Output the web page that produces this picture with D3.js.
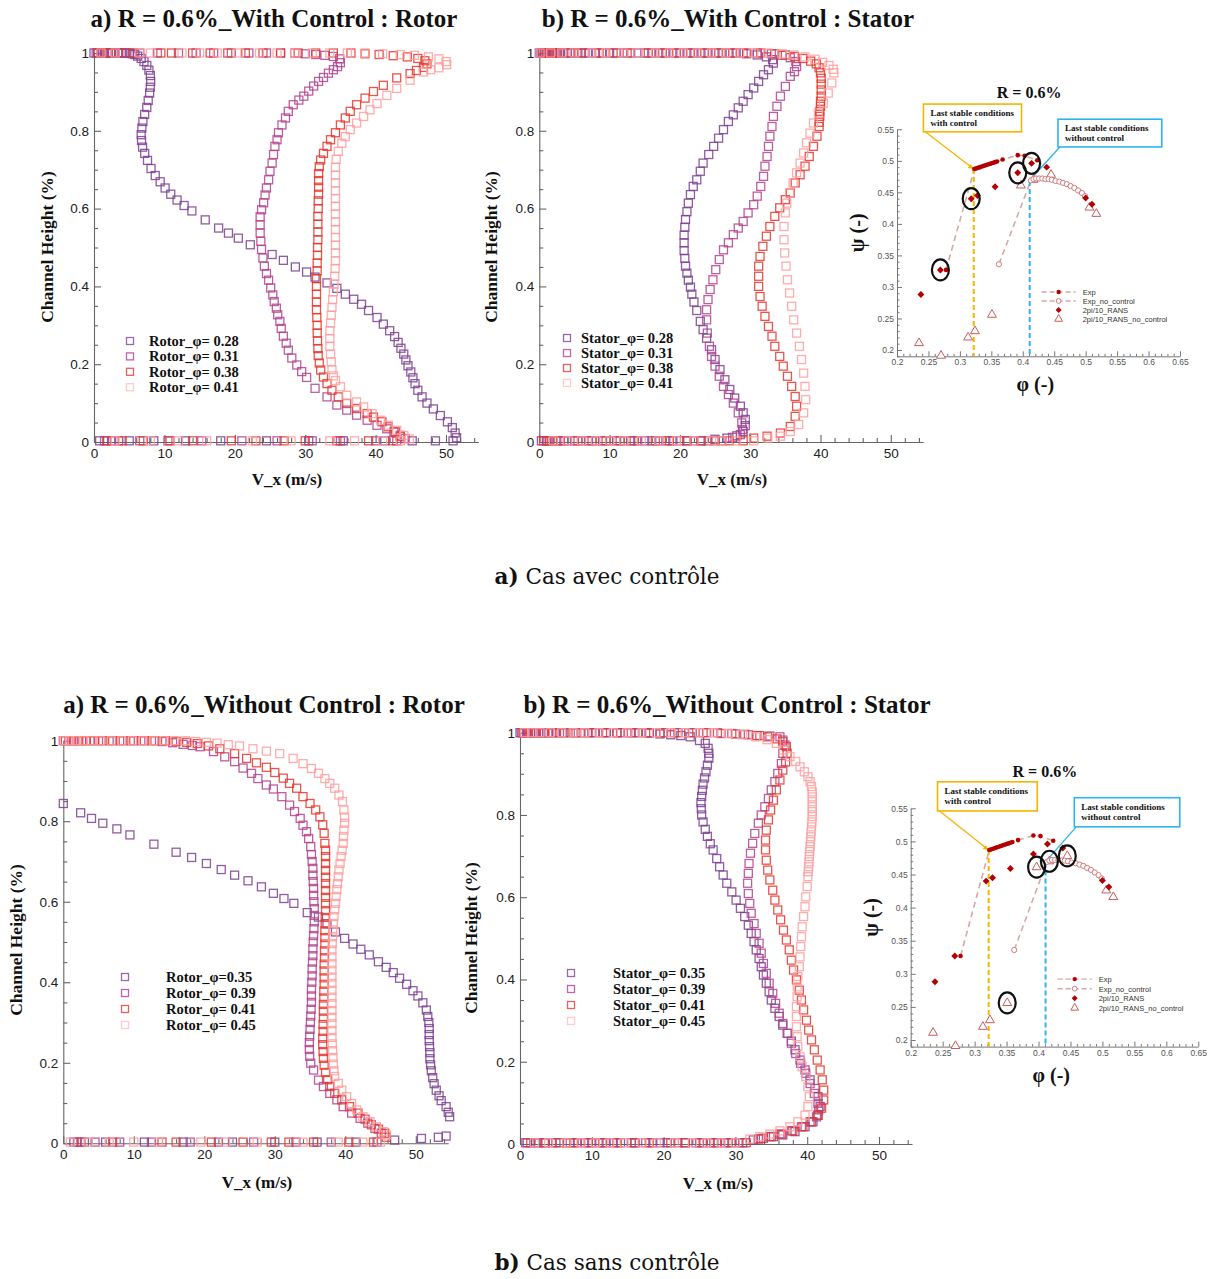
<!DOCTYPE html>
<html><head><meta charset="utf-8">
<script src="https://cdn.jsdelivr.net/npm/d3@7/dist/d3.min.js"></script>
<style>body{margin:0;background:#fff}</style></head>
<body>
<svg id="c" width="1215" height="1279" xmlns="http://www.w3.org/2000/svg"></svg>
<script>
// ---------------- DATA ----------------
// Legend labels
const tlLabels = ["Rotor_\u03c6= 0.28","Rotor_\u03c6= 0.31","Rotor_\u03c6= 0.38","Rotor_\u03c6= 0.41"];
const trLabels = ["Stator_\u03c6= 0.28","Stator_\u03c6= 0.31","Stator_\u03c6= 0.38","Stator_\u03c6= 0.41"];
const blLabels = ["Rotor_\u03c6=0.35","Rotor_\u03c6= 0.39","Rotor_\u03c6= 0.41","Rotor_\u03c6= 0.45"];
const brLabels = ["Stator_\u03c6= 0.35","Stator_\u03c6= 0.39","Stator_\u03c6= 0.41","Stator_\u03c6= 0.45"];
const titles = ["a) R = 0.6%_With Control : Rotor","b) R = 0.6%_With Control : Stator","a) R = 0.6%_Without Control : Rotor","b) R = 0.6%_Without Control : Stator"];
const xTicks = [0,10,20,30,40,50];
const yTicks = [0,0.2,0.4,0.6,0.8,1];

// [V_x (m/s), channel height]
const tlR28 = [[0,1],[0.5,1],[1,1],[1.5,1],[2,1],[2.5,1],[3,1],[3.5,1],[4,1],[4.5,1],[5,1],[5.4,0.998],[5.8,0.996],
[6.2,0.992],[6.7,0.986],[7.1,0.978],[7.5,0.968],[7.8,0.956],[8.0,0.942],[8.05,0.927],[8.0,0.912],[7.9,0.897],[7.7,0.878],[7.5,0.86],[7.2,0.842],[6.95,0.824],[6.8,0.807],[6.7,0.79],[6.75,0.775],[6.9,0.758],[7.2,0.742],[7.6,0.724],[8.1,0.703],[8.7,0.685],[9.4,0.669],[10.1,0.653],[10.9,0.637],[11.8,0.622],[12.8,0.608],[13.9,0.594],[15.8,0.571],[17.7,0.55],[19.1,0.537],[20.5,0.524],[22.2,0.507],[25.3,0.482],[26.9,0.467],[28.6,0.45],[30.2,0.437],[31.4,0.424],[33.1,0.409],[34.5,0.395],[35.7,0.38],[36.9,0.367],[38.0,0.354],[39.0,0.338],[40.2,0.32],[41.1,0.303],[42.0,0.286],[42.7,0.271],[43.2,0.256],[43.6,0.241],[44.0,0.226],[44.3,0.211],[44.6,0.196],[45.0,0.18],[45.3,0.165],[45.6,0.15],[46.0,0.133],[46.6,0.116],[47.3,0.1],[48.2,0.085],[49.2,0.068],[50.2,0.052],[50.9,0.037],[51.3,0.023],[51.5,0.011],
[51.0,0.003],[48.5,0.003],[45.2,0.003],[41.3,0.003],[35.4,0.003],[30.5,0.003],[24.5,0.003],[18.0,0.003],[13.0,0.003],[8.5,0.003],[5.0,0.003],[2.5,0.003],[0.8,0.003]];
const tlR31 = [[0.3,1],[1.2,1],[2.5,1],[4,1],[6.5,1],[9,1],[12,1],[14.5,1],[17,1],[19.5,1],[22,1],[24.5,1],[26.5,1],[28.5,1],[30,0.998],[31.5,0.996],[32.8,0.994],[34,0.991],
[34.9,0.985],[35.0,0.975],[34.6,0.965],[34.0,0.957],[33.3,0.948],[32.6,0.937],[31.9,0.927],[31.2,0.915],[30.5,0.902],[29.8,0.889],[29.1,0.879],[28.3,0.867],[27.6,0.85],[27.2,0.833],[26.7,0.815],[26.2,0.795],[26.0,0.777],[25.7,0.76],[25.5,0.739],[25.3,0.717],[25.0,0.696],[24.8,0.674],[24.5,0.653],[24.3,0.635],[24.1,0.615],[23.8,0.597],[23.6,0.579],[23.6,0.558],[23.6,0.537],[23.7,0.516],[23.8,0.495],[24.0,0.473],[24.2,0.452],[24.5,0.433],[24.8,0.416],[25.1,0.396],[25.4,0.378],[25.6,0.361],[25.9,0.344],[26.1,0.327],[26.4,0.31],[26.6,0.292],[26.9,0.272],[27.3,0.254],[27.6,0.236],[28.1,0.216],[28.8,0.198],[29.5,0.181],[30.2,0.166],[31.4,0.138],[33.1,0.116],[34.5,0.095],[35.9,0.082],[37.3,0.069],[38.8,0.056],[40.2,0.043],[41.6,0.034],[42.6,0.026],[43.5,0.017],[44.2,0.009],
[43.0,0.003],[40.0,0.003],[35.0,0.003],[31.0,0.003],[26.0,0.003],[21.0,0.003],[15.3,0.003],[10.5,0.003],[6.5,0.003],[3.5,0.003],[1.5,0.003]];
const tlR38 = [[0.6,1],[2,1],[3.5,1],[5.5,1],[9.5,1],[11,1],[14,1],[16.5,1],[19,1],[21.5,1],[24,1],[26.5,1],[29,1],[31.5,1],[34,1],[36.5,1],[38.5,0.998],[40.5,0.996],[42.5,0.993],[44.5,0.99],[46,0.986],[47,0.98],
[47.3,0.972],[46.8,0.963],[45.8,0.955],[44.9,0.947],[43.0,0.936],[41.1,0.917],[39.7,0.901],[38.5,0.884],[37.3,0.867],[36.4,0.85],[35.7,0.833],[35.0,0.815],[34.3,0.795],[33.6,0.777],[33.1,0.76],[32.6,0.742],[32.2,0.725],[32.0,0.708],[31.9,0.69],[31.9,0.672],[31.9,0.655],[31.9,0.637],[31.85,0.62],[31.85,0.6],[31.8,0.58],[31.8,0.56],[31.8,0.54],[31.8,0.52],[31.75,0.5],[31.75,0.48],[31.7,0.46],[31.7,0.44],[31.6,0.42],[31.6,0.4],[31.6,0.38],[31.6,0.36],[31.6,0.34],[31.65,0.32],[31.7,0.3],[31.7,0.28],[31.75,0.26],[31.8,0.24],[31.85,0.222],[32.0,0.203],[32.2,0.185],[32.6,0.167],[33.1,0.15],[33.8,0.133],[34.7,0.116],[35.9,0.099],[37.3,0.086],[38.8,0.073],[39.7,0.064],[40.9,0.052],[41.8,0.039],[42.8,0.026],[43.5,0.014],
[42.5,0.003],[39.0,0.003],[34.5,0.003],[30.0,0.003],[27.0,0.003],[23.0,0.003],[19.5,0.003],[14.0,0.003],[10.8,0.003],[7.0,0.003],[4.0,0.003],[1.8,0.003]];
const tlR41 = [[1,1],[3,1],[6.5,1],[8,1],[12.5,1],[15,1],[17.5,1],[20.5,1],[23.5,1],[26,1],[28.5,1],[31,1],[33.5,1],[36,1],[38.5,1],[41,0.998],[43.5,0.996],[45.5,0.994],[47.5,0.99],[49,0.985],[50,0.978],
[50.1,0.97],[49.0,0.962],[47.8,0.957],[46.8,0.951],[44.9,0.93],[43.0,0.909],[41.6,0.891],[40.2,0.87],[39.2,0.854],[38.3,0.837],[37.3,0.82],[36.4,0.803],[35.7,0.785],[35.2,0.768],[34.7,0.747],[34.4,0.727],[34.3,0.706],[34.3,0.686],[34.3,0.666],[34.3,0.646],[34.3,0.626],[34.3,0.606],[34.3,0.586],[34.3,0.566],[34.3,0.546],[34.3,0.526],[34.3,0.506],[34.3,0.486],[34.3,0.466],[34.25,0.446],[34.2,0.426],[34.1,0.406],[34.0,0.386],[33.9,0.366],[33.8,0.346],[33.7,0.326],[33.6,0.306],[33.5,0.286],[33.5,0.266],[33.5,0.246],[33.6,0.226],[33.7,0.206],[33.8,0.186],[34.0,0.17],[34.3,0.158],[35.0,0.142],[35.9,0.12],[37.3,0.103],[38.3,0.09],[39.5,0.073],[40.7,0.056],[41.8,0.043],[43.0,0.03],[44.0,0.017],[44.8,0.008],
[43.5,0.003],[41.0,0.003],[37.0,0.003],[33.5,0.003],[28.0,0.003],[22.5,0.003],[16.0,0.003],[12.0,0.003],[8.0,0.003],[3.0,0.003]];

const trS28 = [[0,1],[0.4,1],[0.8,1],[1.2,1],[1.6,1],[2,1],[2.5,1],[3,1],[4,1],[5,1],[6.5,1],[8,1],[10,1],[12,1],[14,1],[16,1],[18,1],[20,1],[22,1],[24,1],[26,1],[28,1],[29.5,0.998],[31,0.995],[32.3,0.99],[33.2,0.983],
[33.3,0.974],[32.6,0.957],[31.9,0.944],[31.2,0.927],[30.5,0.91],[29.7,0.893],[29.0,0.876],[28.3,0.859],[27.6,0.841],[26.9,0.824],[26.2,0.803],[25.5,0.781],[24.8,0.76],[24.1,0.739],[23.3,0.717],[22.9,0.696],[22.4,0.674],[21.9,0.657],[21.5,0.636],[21.2,0.614],[21.0,0.592],[20.8,0.572],[20.7,0.552],[20.6,0.532],[20.6,0.512],[20.6,0.492],[20.7,0.472],[20.8,0.452],[21.0,0.434],[21.2,0.416],[21.5,0.398],[21.7,0.38],[22.0,0.36],[22.4,0.338],[22.9,0.31],[23.3,0.289],[23.8,0.267],[24.5,0.237],[25.0,0.212],[25.7,0.186],[26.4,0.16],[27.1,0.135],[27.8,0.113],[28.6,0.092],[29.0,0.075],[29.3,0.058],[29.3,0.042],[29.0,0.027],[28.1,0.016],[26.7,0.01],[25.0,0.007],
[23.0,0.003],[21.0,0.003],[19.0,0.003],[17.0,0.003],[15.0,0.003],[13.0,0.003],[11.0,0.003],[9.0,0.003],[7.0,0.003],[5.0,0.003],[3.5,0.003],[2.0,0.003],[1.0,0.003],[0.3,0.003]];
const trS31 = [[0.2,1],[0.7,1],[1.4,1],[2.2,1],[3.5,1],[5.5,1],[7,1],[9,1],[11,1],[13,1],[15,1],[17,1],[19,1],[21,1],[23,1],[25,1],[27,1],[29,1],[31,1],[33,0.998],[34.5,0.994],[35.7,0.988],[36.5,0.978],
[36.6,0.965],[36.3,0.952],[35.7,0.94],[35.0,0.914],[34.3,0.889],[33.8,0.863],[33.3,0.837],[33.1,0.811],[32.8,0.786],[32.6,0.76],[32.4,0.734],[32.1,0.709],[31.9,0.683],[31.5,0.657],[31.0,0.632],[30.5,0.61],[29.7,0.589],[29.0,0.567],[28.3,0.55],[27.6,0.533],[26.9,0.512],[26.2,0.494],[25.6,0.469],[25.1,0.443],[24.7,0.417],[24.3,0.392],[24.0,0.366],[23.8,0.34],[23.8,0.314],[23.9,0.28],[24.2,0.246],[24.5,0.22],[25.0,0.195],[25.6,0.169],[26.2,0.143],[26.9,0.122],[27.6,0.1],[28.3,0.075],[28.8,0.049],[28.9,0.032],[28.6,0.019],[27.5,0.012],
[26,0.003],[24,0.003],[22,0.003],[20,0.003],[18,0.003],[16,0.003],[14,0.003],[12,0.003],[10,0.003],[8,0.003],[6,0.003],[4,0.003],[2.5,0.003],[1.2,0.003]];
const trS38 = [[0.5,1],[1,1],[1.8,1],[2.6,1],[4.5,1],[6,1],[8.5,1],[10.5,1],[12.5,1],[15.5,1],[17.5,1],[19.5,1],[21.5,1],[23.5,1],[25.5,1],[27.5,1],[29.5,1],[31.5,1],[33.5,0.998],[35,0.995],[36.3,0.991],[37.5,0.986],[38.6,0.979],[39.4,0.972],
[39.8,0.962],[40.0,0.949],[40.1,0.935],[40.1,0.92],[40.1,0.905],[40.1,0.889],[40.0,0.876],[40.0,0.863],[39.9,0.85],[39.9,0.837],[39.8,0.822],[39.8,0.811],[39.5,0.786],[39.0,0.76],[38.4,0.734],[37.8,0.709],[37.1,0.687],[36.4,0.666],[35.7,0.64],[35.0,0.623],[34.2,0.602],[33.5,0.58],[32.8,0.554],[32.3,0.529],[31.8,0.503],[31.4,0.477],[31.2,0.452],[31.2,0.426],[31.2,0.4],[31.4,0.374],[31.7,0.349],[32.1,0.323],[32.6,0.297],[33.1,0.272],[33.5,0.246],[34.2,0.22],[34.7,0.195],[35.3,0.169],[35.9,0.143],[36.4,0.117],[36.6,0.092],[36.4,0.066],[35.7,0.04],[34.3,0.023],[32.4,0.015],[30.5,0.01],
[29,0.003],[27,0.003],[25,0.003],[23,0.003],[21,0.003],[18.5,0.003],[16.5,0.003],[13.5,0.003],[11.5,0.003],[9.5,0.003],[7.5,0.003],[5.5,0.003],[3,0.003],[1.5,0.003],[0.6,0.003]];
const trS41 = [[0.1,1],[1.6,1],[3.2,1],[5,1],[7.5,1],[9.5,1],[12,1],[14,1],[16.5,1],[18.5,1],[20.5,1],[22.5,1],[24.5,1],[26.5,1],[28.5,1],[30.5,1],[32.5,1],[34.5,0.998],[36.2,0.995],[37.8,0.99],[39.2,0.984],[40.3,0.976],[41.2,0.968],[41.8,0.958],
[41.9,0.949],[41.6,0.923],[41.1,0.897],[40.4,0.871],[39.7,0.846],[39.0,0.82],[38.5,0.794],[38.0,0.769],[37.6,0.743],[37.1,0.717],[36.6,0.692],[36.1,0.666],[35.6,0.64],[35.2,0.614],[35.0,0.589],[34.8,0.554],[34.8,0.52],[34.9,0.486],[35.1,0.452],[35.3,0.417],[35.6,0.383],[35.9,0.349],[36.2,0.314],[36.6,0.28],[37.0,0.246],[37.3,0.212],[37.6,0.177],[37.8,0.143],[37.9,0.109],[37.6,0.075],[36.9,0.045],[35.7,0.027],[34.3,0.015],[32.5,0.01],
[30.5,0.003],[28,0.003],[26,0.003],[24.5,0.003],[22,0.003],[19.5,0.003],[17,0.003],[14.5,0.003],[12,0.003],[10,0.003],[8,0.003],[6,0.003],[4,0.003],[2,0.003]];

const blR35 = [[0,0.844],[2.46,0.821],[4.0,0.807],[5.6,0.795],[7.6,0.781],[9.45,0.766],[12.85,0.743],[16.0,0.723],[18.2,0.71],[20.3,0.695],[22.4,0.68],[24.3,0.666],[26.2,0.652],[28.1,0.637],[29.8,0.621],[31.3,0.608],[32.7,0.596],[34.6,0.573],[36.2,0.562],[37.4,0.545],[38.6,0.525],[39.9,0.509],[41.1,0.495],[42.2,0.482],[43.4,0.468],[44.7,0.451],[45.8,0.437],[46.8,0.424],[47.7,0.41],[48.7,0.395],[49.6,0.379],[50.3,0.366],[51.0,0.349],[51.5,0.331],[51.7,0.315],[51.85,0.3],[51.9,0.285],[51.9,0.27],[51.9,0.255],[51.95,0.24],[52.0,0.225],[52.0,0.21],[52.1,0.195],[52.2,0.18],[52.4,0.163],[52.6,0.148],[52.9,0.132],[53.3,0.118],[53.6,0.106],[54.3,0.091],[54.6,0.077],[54.8,0.066],
[54.3,0.018],[53.2,0.015],[50.8,0.012],[47.0,0.008],[41.5,0.003],[36.0,0.003],[30.0,0.003],[24.0,0.003],[17.0,0.003],[11.5,0.003],[6.0,0.003],[3.0,0.003],[1.5,0.003]];
const blR39 = [[0,1],[0.8,1],[1.6,1],[2.6,1],[3.8,1],[5,1],[6.5,1],[8,1],[9.5,1],[11,1],[12.5,1],[14,0.998],[15.5,0.995],[17,0.991],[18.3,0.988],
[19.4,0.985],[21.3,0.973],[22.9,0.96],[24.3,0.948],[25.5,0.932],[26.7,0.919],[27.6,0.906],[28.8,0.89],[29.8,0.88],[31.0,0.861],[32.1,0.84],[32.8,0.824],[33.6,0.807],[34.0,0.79],[34.5,0.774],[34.8,0.757],[35.1,0.737],[35.2,0.717],[35.3,0.7],[35.4,0.683],[35.4,0.666],[35.45,0.65],[35.5,0.633],[35.5,0.616],[35.55,0.6],[35.6,0.583],[35.6,0.566],[35.6,0.55],[35.55,0.533],[35.5,0.516],[35.45,0.5],[35.4,0.483],[35.4,0.466],[35.35,0.45],[35.3,0.433],[35.3,0.416],[35.25,0.4],[35.2,0.383],[35.2,0.366],[35.2,0.35],[35.15,0.333],[35.1,0.316],[35.05,0.3],[35.0,0.283],[34.95,0.266],[34.9,0.25],[34.9,0.233],[34.95,0.216],[35.1,0.199],[35.5,0.182],[36.2,0.157],[36.9,0.141],[37.8,0.124],[38.8,0.108],[39.7,0.091],[40.9,0.075],[42.1,0.062],[43.2,0.05],[44.2,0.037],[45.1,0.025],
[44.5,0.003],[38.0,0.003],[33.0,0.003],[27.0,0.003],[22.0,0.003],[18.0,0.003],[12.5,0.003],[8.0,0.003],[4.5,0.003],[2.0,0.003]];
const blR41 = [[0.3,1],[1.2,1],[2.2,1],[3.2,1],[4.4,1],[5.6,1],[7,1],[8.5,1],[10,1],[11.5,1],[13,1],[14.5,1],[16,0.998],[17.5,0.996],[19,0.993],[20.6,0.987],
[22.2,0.98],[24.3,0.968],[26.0,0.956],[27.4,0.945],[28.8,0.934],[30.0,0.921],[31.2,0.907],[32.1,0.894],[33.1,0.882],[34.0,0.861],[35.0,0.844],[35.8,0.828],[36.4,0.811],[36.8,0.791],[37.0,0.77],[37.1,0.745],[37.2,0.728],[37.2,0.712],[37.2,0.695],[37.2,0.678],[37.2,0.661],[37.2,0.645],[37.2,0.628],[37.2,0.611],[37.2,0.595],[37.2,0.578],[37.15,0.561],[37.15,0.545],[37.1,0.528],[37.1,0.511],[37.1,0.495],[37.05,0.478],[37.05,0.461],[37.0,0.445],[37.0,0.428],[37.0,0.411],[37.0,0.395],[36.95,0.378],[36.95,0.361],[36.9,0.345],[36.9,0.328],[36.9,0.311],[36.85,0.295],[36.85,0.278],[36.8,0.261],[36.8,0.245],[36.85,0.228],[36.9,0.211],[37.0,0.194],[37.2,0.176],[37.5,0.158],[37.8,0.141],[38.5,0.124],[39.5,0.108],[40.6,0.091],[41.8,0.075],[42.8,0.06],[43.7,0.046],[44.7,0.035],[45.6,0.025],[45.8,0.015],
[44.0,0.003],[40.5,0.003],[35.5,0.003],[32.0,0.003],[29.5,0.003],[25.5,0.003],[21.0,0.003],[16.0,0.003],[14.0,0.003],[7.0,0.003],[2.5,0.003]];
const blR45 = [[0.1,1],[0.9,1],[1.8,1],[2.8,1],[4,1],[5.3,1],[6.8,1],[8.3,1],[9.8,1],[11.3,1],[12.8,1],[14.3,1],[15.8,1],[17.3,1],[18.8,0.998],[20.3,0.996],[21.8,0.994],[23.4,0.99],
[25.0,0.987],[26.9,0.98],[28.8,0.974],[30.7,0.968],[32.6,0.956],[34.0,0.943],[35.2,0.931],[36.2,0.919],[37.1,0.906],[37.8,0.894],[38.5,0.882],[39.1,0.865],[39.6,0.849],[39.8,0.828],[39.9,0.81],[39.9,0.795],[39.8,0.778],[39.75,0.762],[39.7,0.745],[39.55,0.728],[39.4,0.712],[39.25,0.695],[39.1,0.679],[39.0,0.662],[38.9,0.645],[38.8,0.63],[38.7,0.613],[38.6,0.596],[38.5,0.58],[38.4,0.563],[38.3,0.546],[38.2,0.53],[38.2,0.513],[38.15,0.496],[38.1,0.48],[38.1,0.463],[38.1,0.446],[38.1,0.43],[38.1,0.413],[38.1,0.397],[38.1,0.38],[38.1,0.363],[38.1,0.347],[38.1,0.33],[38.1,0.313],[38.1,0.297],[38.1,0.28],[38.1,0.263],[38.15,0.247],[38.2,0.23],[38.25,0.213],[38.3,0.197],[38.4,0.18],[38.5,0.166],[39.0,0.149],[39.5,0.132],[40.2,0.116],[40.9,0.099],[41.6,0.083],[42.5,0.066],[43.5,0.054],[44.4,0.041],[45.4,0.029],[45.8,0.021],
[45.0,0.003],[42.5,0.003],[39.0,0.003],[34.0,0.003],[27.5,0.003],[23.0,0.003],[19.5,0.003],[13.5,0.003],[10.0,0.003],[6.5,0.003],[3.5,0.003],[1.0,0.003]];

const brS35 = [[0,1],[0.5,1],[1,1],[1.5,1],[2,1],[2.6,1],[3.3,1],[4,1],[5,1],[6,1],[7.5,1],[9,1],[10.5,1],[12,1],[13.5,1],[15,1],[16.5,1],[18,0.999],[19.5,0.997],[21,0.995],[22.4,0.993],
[23.7,0.99],[25.0,0.981],[25.8,0.974],[26.2,0.962],[26.3,0.95],[26.3,0.938],[26.1,0.921],[25.9,0.905],[25.7,0.89],[25.5,0.875],[25.4,0.86],[25.3,0.845],[25.2,0.83],[25.25,0.815],[25.3,0.8],[25.5,0.783],[25.8,0.765],[26.1,0.748],[26.5,0.73],[26.9,0.715],[27.4,0.694],[27.8,0.674],[28.3,0.654],[28.8,0.634],[29.5,0.613],[30.1,0.593],[30.7,0.573],[31.3,0.553],[31.8,0.532],[32.2,0.512],[32.6,0.492],[32.9,0.472],[33.3,0.451],[33.6,0.431],[33.9,0.411],[34.3,0.391],[34.7,0.37],[35.0,0.35],[35.5,0.33],[36.1,0.31],[36.6,0.289],[37.3,0.269],[37.8,0.25],[38.3,0.229],[39.0,0.204],[39.7,0.18],[40.4,0.156],[41.1,0.135],[41.5,0.115],[41.8,0.091],[41.5,0.07],[40.8,0.054],[39.7,0.042],[38.3,0.03],[36.6,0.022],[35.3,0.018],[33.9,0.014],[32.5,0.01],
[31,0.003],[29,0.003],[27,0.003],[25,0.003],[23,0.003],[20.5,0.003],[18.5,0.003],[16,0.003],[14,0.003],[12,0.003],[10,0.003],[8,0.003],[6.5,0.003],[5,0.003],[3.5,0.003],[2.2,0.003],[1,0.003]];
const brS39 = [[0.2,1],[0.9,1],[1.8,1],[2.8,1],[4,1],[5.5,1],[7,1],[8.5,1],[10,1],[12,1],[14,1],[16,1],[18,1],[20,1],[22,1],[24,1],[26,1],[28,0.998],[30,0.997],[31.8,0.995],[33.4,0.993],[34.8,0.992],
[36.2,0.99],[36.6,0.982],[36.9,0.97],[36.6,0.95],[36.4,0.925],[35.9,0.901],[35.5,0.881],[35.0,0.861],[34.6,0.84],[34.1,0.82],[33.6,0.8],[33.2,0.78],[32.7,0.755],[32.4,0.731],[32.1,0.707],[31.9,0.682],[31.8,0.658],[31.7,0.634],[31.8,0.609],[32.0,0.585],[32.2,0.561],[32.6,0.536],[32.9,0.512],[33.3,0.488],[33.6,0.464],[33.9,0.439],[34.3,0.415],[34.7,0.391],[35.2,0.366],[35.6,0.342],[36.1,0.318],[36.6,0.293],[37.2,0.269],[37.8,0.245],[38.4,0.22],[39.1,0.196],[39.8,0.172],[40.4,0.147],[41.0,0.123],[41.5,0.099],[41.6,0.083],[41.3,0.066],[40.4,0.054],[39.2,0.042],[37.8,0.032],[36.2,0.024],[34.8,0.018],[33.2,0.012],
[30.5,0.003],[28.5,0.003],[26.5,0.003],[24.5,0.003],[22,0.003],[19.5,0.003],[17.5,0.003],[15.5,0.003],[13,0.003],[11,0.003],[9,0.003],[7,0.003],[4.5,0.003],[2.5,0.003],[0.8,0.003]];
const brS41 = [[0.4,1],[1.2,1],[2.2,1],[3.4,1],[4.6,1],[6.2,1],[7.8,1],[9.5,1],[11.5,1],[13.5,1],[15.5,1],[17.5,1],[19.5,1],[21.5,1],[23.5,1],[25.5,1],[27.5,1],[29.5,0.998],[31.3,0.996],[33,0.993],[34.5,0.99],[35.8,0.985],
[36.6,0.978],[37.1,0.966],[37.2,0.95],[37.0,0.929],[36.6,0.909],[36.2,0.885],[35.7,0.861],[35.3,0.836],[34.9,0.812],[34.6,0.788],[34.3,0.763],[34.2,0.739],[34.2,0.715],[34.3,0.69],[34.5,0.666],[34.8,0.642],[35.2,0.617],[35.5,0.593],[35.9,0.569],[36.3,0.545],[36.7,0.52],[37.1,0.496],[37.5,0.472],[37.8,0.447],[38.1,0.423],[38.5,0.399],[38.9,0.374],[39.2,0.35],[39.5,0.326],[39.9,0.301],[40.2,0.277],[40.6,0.253],[41.0,0.229],[41.4,0.204],[41.8,0.18],[42.1,0.156],[42.3,0.131],[42.3,0.107],[42.0,0.087],[41.5,0.07],[40.6,0.054],[39.4,0.042],[38.0,0.032],[36.4,0.024],[35.0,0.018],[33.5,0.013],
[31.5,0.003],[29.5,0.003],[27.5,0.003],[25.5,0.003],[23,0.003],[21,0.003],[18,0.003],[16,0.003],[13.5,0.003],[11.5,0.003],[9.5,0.003],[7.5,0.003],[5.5,0.003],[3.5,0.003],[1.5,0.003]];
const brS45 = [[0.6,1],[1.6,1],[2.8,1],[4.2,1],[5.8,1],[7.4,1],[9,1],[11,1],[13,1],[15,1],[17,1],[19,1],[21,1],[23,1],[25,1],[27,1],[29,0.998],[31,0.995],[32.8,0.99],[34.4,0.983],
[35.7,0.974],[36.7,0.958],[37.6,0.942],[38.4,0.93],[39.0,0.917],[39.6,0.905],[40.1,0.893],[40.4,0.881],[40.6,0.869],[40.7,0.856],[40.7,0.844],[40.7,0.832],[40.7,0.82],[40.7,0.808],[40.7,0.796],[40.65,0.783],[40.6,0.771],[40.55,0.759],[40.5,0.747],[40.45,0.735],[40.4,0.723],[40.35,0.711],[40.3,0.699],[40.25,0.686],[40.2,0.674],[40.15,0.662],[40.1,0.65],[40.0,0.626],[39.8,0.601],[39.7,0.577],[39.5,0.553],[39.3,0.528],[39.2,0.504],[39.1,0.48],[39.0,0.455],[38.9,0.431],[38.7,0.407],[38.6,0.382],[38.6,0.358],[38.5,0.334],[38.5,0.31],[38.5,0.285],[38.6,0.261],[38.7,0.237],[39.0,0.212],[39.3,0.188],[39.8,0.164],[40.1,0.139],[40.3,0.115],[40.1,0.091],[39.7,0.07],[38.7,0.054],[37.6,0.042],[36.2,0.032],[34.8,0.024],[33.4,0.018],[32,0.012],
[30,0.003],[28,0.003],[26,0.003],[24,0.003],[21.5,0.003],[19,0.003],[17,0.003],[14.5,0.003],[12.5,0.003],[10.5,0.003],[8.5,0.003],[6.5,0.003],[4,0.003],[2,0.003]];

// Compressor characteristic (phi, psi)
const expPhi = [0.278,0.323,0.326,0.329,0.332,0.335,0.338,0.341,0.344,0.347,0.350,0.353,0.356,0.359,0.368,0.392,0.403,0.423];
const expPsi = [0.327,0.487,0.488,0.489,0.490,0.491,0.492,0.493,0.494,0.495,0.496,0.497,0.498,0.499,0.502,0.509,0.508,0.501];
const expNcPhi = [0.362,0.413,0.417,0.421,0.426,0.431,0.436,0.441,0.446,0.452,0.458,0.464,0.470,0.476,0.482,0.488,0.494,0.499];
const expNcPsi = [0.336,0.469,0.471,0.472,0.472,0.472,0.471,0.471,0.470,0.468,0.467,0.465,0.463,0.460,0.457,0.453,0.449,0.444];
const ransPhi = [0.238,0.269,0.318,0.328,0.356,0.392,0.414,0.438,0.500,0.510];
const ransPsi = [0.288,0.327,0.440,0.445,0.459,0.481,0.496,0.490,0.441,0.431];
const ransNcPhi = [0.235,0.270,0.313,0.324,0.351,0.397,0.417,0.445,0.506,0.517];
const ransNcPsi = [0.211,0.191,0.220,0.230,0.256,0.461,0.470,0.478,0.426,0.416];
const circledTop = [[0.269,0.327],[0.318,0.440],[0.392,0.481],[0.414,0.496]];
const circledBottom = [[0.397,0.461],[0.417,0.470],[0.445,0.478],[0.351,0.256]];
const stallWith = [0.322,0.487];
const stallWithout = [0.411,0.468];
const miniXTicks = [0.2,0.25,0.3,0.35,0.4,0.45,0.5,0.55,0.6,0.65];
const miniYTicks = [0.2,0.25,0.3,0.35,0.4,0.45,0.5,0.55];
const miniLegend = ["Exp","Exp_no_control","2pi/10_RANS","2pi/10_RANS_no_control"];

// ---------------- DRAWING ----------------
const svg = d3.select('#c');
svg.append('rect').attr('width',1215).attr('height',1279).attr('fill','#fff');
const serif = "'Liberation Serif','Times New Roman',serif";
const sans = "'Liberation Sans',Arial,sans-serif";
const colors = ["#7d3f90","#b2428f","#e4372e","#ff9d9d"];
const legendColors = ["#9a66ae","#c462ab","#ea5f5f","#ffcccc"];

function profile(cfg){
  const g = svg.append('g');
  const x = d3.scaleLinear().domain([0,54.6]).range([cfg.x0, cfg.x0 + 54.6*cfg.kx]);
  const y = d3.scaleLinear().domain([0,1]).range([cfg.yb, cfg.yt]);
  g.append('g').attr('transform',`translate(0,${cfg.yb})`)
    .call(d3.axisBottom(x).tickValues(xTicks).tickSize(-7).tickSizeOuter(0).tickPadding(6).tickFormat(d=>String(d)));
  g.append('g').attr('transform',`translate(0,${cfg.yb})`)
    .call(d3.axisBottom(x).tickValues(d3.range(2,55,2).filter(v=>v%10)).tickSize(-4).tickSizeOuter(0).tickFormat(''))
    .select('.domain').remove();
  g.append('g').attr('transform',`translate(${cfg.x0},0)`)
    .call(d3.axisLeft(y).tickValues(yTicks).tickSize(-7).tickSizeOuter(0).tickPadding(5).tickFormat(d=>String(d)));
  g.append('g').attr('transform',`translate(${cfg.x0},0)`)
    .call(d3.axisLeft(y).tickValues([0.05,0.1,0.15,0.25,0.3,0.35,0.45,0.5,0.55,0.65,0.7,0.75,0.85,0.9,0.95]).tickSize(-4).tickSizeOuter(0).tickFormat(''))
    .select('.domain').remove();
  g.selectAll('.domain, .tick line').attr('stroke','#666').attr('stroke-width',1.1);
  g.selectAll('.tick text').attr('font-family',sans).attr('font-size',13.5).attr('fill','#222');
  cfg.series.forEach((pts,i)=>{
    g.append('g').selectAll('rect').data(pts).join('rect')
      .attr('x',d=>x(d[0])-4).attr('y',d=>y(d[1])-4).attr('width',8).attr('height',8)
      .attr('fill','none').attr('stroke',colors[i]).attr('stroke-width',1.3).attr('stroke-opacity',0.85);
  });
  cfg.labels.forEach((t,i)=>{
    const yy = cfg.ly + i*cfg.lstep;
    g.append('rect').attr('x',cfg.lsx-3.5).attr('y',yy-3.5).attr('width',7).attr('height',7)
      .attr('fill','none').attr('stroke',legendColors[i]).attr('stroke-width',1.3);
    g.append('text').attr('x',cfg.ltx).attr('y',yy+5).text(t)
      .attr('font-family',serif).attr('font-weight','bold').attr('font-size',14.5).attr('fill','#111');
  });
  g.append('text').attr('transform',`translate(${cfg.ylx},${cfg.yly}) rotate(-90)`).attr('text-anchor','middle')
    .attr('font-family',serif).attr('font-weight','bold').attr('font-size',17.5).attr('fill','#111').text('Channel Height (%)');
  g.append('text').attr('x',cfg.xlx).attr('y',cfg.xly).attr('text-anchor','middle')
    .attr('font-family',serif).attr('font-weight','bold').attr('font-size',17).attr('fill','#111').text('V_x (m/s)');
  g.append('text').attr('x',cfg.tx).attr('y',cfg.ty).attr('text-anchor','middle')
    .attr('font-family',serif).attr('font-weight','bold').attr('font-size',25).attr('fill','#111').text(cfg.title);
}

profile({x0:94,kx:7.04,yb:442,yt:53,series:[tlR28,tlR31,tlR38,tlR41],labels:tlLabels,lsx:130,ltx:149,ly:341,lstep:15.4,
  ylx:53,yly:247,xlx:287,xly:485,tx:274,ty:27,title:titles[0]});
profile({x0:539.3,kx:7.03,yb:442,yt:53,series:[trS28,trS31,trS38,trS41],labels:trLabels,lsx:567,ltx:581,ly:338,lstep:15,
  ylx:497,yly:247,xlx:732,xly:485,tx:728,ty:27,title:titles[1]});
profile({x0:63.3,kx:7.05,yb:1143.3,yt:740.7,series:[blR35,blR39,blR41,blR45],labels:blLabels,lsx:125,ltx:166,ly:977,lstep:16,
  ylx:22,yly:940,xlx:257,xly:1188,tx:264,ty:713,title:titles[2]});
profile({x0:520,kx:7.18,yb:1144,yt:732.7,series:[brS35,brS39,brS41,brS45],labels:brLabels,lsx:571,ltx:613,ly:973,lstep:16,
  ylx:477,yly:938,xlx:718,xly:1189,tx:727,ty:713,title:titles[3]});

function mini(cfg){
  const g = svg.append('g');
  const x = d3.scaleLinear().domain([0.2,0.65]).range([cfg.x0,cfg.x1]);
  const k = (cfg.y20 - cfg.y55)/0.35;
  const y = d3.scaleLinear().domain([0.19,0.55]).range([cfg.y20 + 0.01*k, cfg.y55]);
  const yb = y(0.19);
  g.append('g').attr('transform',`translate(0,${yb})`)
    .call(d3.axisBottom(x).tickValues(miniXTicks).tickSize(-5).tickSizeOuter(0).tickPadding(3).tickFormat(d=>String(d)));
  g.append('g').attr('transform',`translate(0,${yb})`)
    .call(d3.axisBottom(x).tickValues(d3.range(21,65).filter(v=>v%5).map(v=>v/100)).tickSize(-2.5).tickFormat(''))
    .select('.domain').remove();
  g.append('g').attr('transform',`translate(${cfg.x0},0)`)
    .call(d3.axisLeft(y).tickValues(miniYTicks).tickSize(-5).tickSizeOuter(0).tickPadding(3).tickFormat(d=>String(d)));
  g.append('g').attr('transform',`translate(${cfg.x0},0)`)
    .call(d3.axisLeft(y).tickValues(d3.range(19,55).filter(v=>v%5).map(v=>v/100)).tickSize(-2.5).tickFormat(''))
    .select('.domain').remove();
  g.selectAll('.domain, .tick line').attr('stroke','#777').attr('stroke-width',1);
  g.selectAll('.tick text').attr('font-family',sans).attr('font-size',8.5).attr('fill','#555');

  const dashCol = '#d8a7a7';
  const line = d3.line().x(d=>x(d[0])).y(d=>y(d[1]));
  const exp = expPhi.map((p,i)=>[p,expPsi[i]]);
  const expNc = expNcPhi.map((p,i)=>[p,expNcPsi[i]]);
  const rans = ransPhi.map((p,i)=>[p,ransPsi[i]]);
  const ransNc = ransNcPhi.map((p,i)=>[p,ransNcPsi[i]]);
  g.append('path').attr('d',line(exp)).attr('fill','none').attr('stroke',dashCol).attr('stroke-width',1.6).attr('stroke-dasharray','6,4');
  g.append('path').attr('d',line(expNc)).attr('fill','none').attr('stroke',dashCol).attr('stroke-width',1.6).attr('stroke-dasharray','6,4');

  const yel='#f6b400', blu='#2db4ef';
  g.append('line').attr('x1',x(stallWith[0])).attr('x2',x(stallWith[0])).attr('y1',y(stallWith[1])).attr('y2',yb)
    .attr('stroke',yel).attr('stroke-width',2).attr('stroke-dasharray','5,3');
  g.append('line').attr('x1',x(stallWithout[0])).attr('x2',x(stallWithout[0])).attr('y1',y(stallWithout[1])).attr('y2',yb)
    .attr('stroke',blu).attr('stroke-width',2).attr('stroke-dasharray','5,3');
  g.append('line').attr('x1',x(0.245)).attr('y1',y(0.546)).attr('x2',x(stallWith[0])).attr('y2',y(stallWith[1]))
    .attr('stroke',yel).attr('stroke-width',1.3);
  g.append('path').attr('d',`M${x(stallWith[0])},${y(stallWith[1])} l-6,-1 l3,-4 z`).attr('fill',yel);
  g.append('line').attr('x1',x(0.459)).attr('y1',y(0.522)).attr('x2',x(stallWithout[0])+1).attr('y2',y(stallWithout[1])-2)
    .attr('stroke',blu).attr('stroke-width',1.3);
  const box=(p0,p1,q0,q1,col,t1,t2)=>{
    g.append('rect').attr('x',x(p0)).attr('y',y(q1)).attr('width',x(p1)-x(p0)).attr('height',y(q0)-y(q1))
      .attr('fill','#fff').attr('stroke',col).attr('stroke-width',1.6);
    g.append('text').attr('x',x(p0)+7).attr('y',y(q1)+12).text(t1).attr('font-family',serif).attr('font-weight','bold').attr('font-size',9).attr('fill','#111');
    g.append('text').attr('x',x(p0)+7).attr('y',y(q1)+22).text(t2).attr('font-family',serif).attr('font-weight','bold').attr('font-size',9).attr('fill','#111');
  };
  box(0.242,0.398,0.546,0.590,yel,'Last stable conditions','with control');
  box(0.456,0.621,0.522,0.566,blu,'Last stable conditions','without control');

  g.append('g').selectAll('path').data(ransNc).join('path')
    .attr('transform',d=>`translate(${x(d[0])},${y(d[1])})`).attr('d',d3.symbol(d3.symbolTriangle,34))
    .attr('fill','#fff').attr('stroke','#c85d5d').attr('stroke-width',1);
  g.append('g').selectAll('circle').data(expNc).join('circle')
    .attr('cx',d=>x(d[0])).attr('cy',d=>y(d[1])).attr('r',2.6).attr('fill','#fff').attr('stroke','#cf7d7d').attr('stroke-width',1);
  g.append('g').selectAll('circle').data(exp).join('circle')
    .attr('cx',d=>x(d[0])).attr('cy',d=>y(d[1])).attr('r',2.3).attr('fill','#b30000');
  g.append('g').selectAll('path').data(rans).join('path')
    .attr('transform',d=>`translate(${x(d[0])},${y(d[1])}) rotate(45)`).attr('d',d3.symbol(d3.symbolSquare,24)).attr('fill','#b30000');

  g.append('g').selectAll('ellipse').data(cfg.circled).join('ellipse')
    .attr('cx',d=>x(d[0])).attr('cy',d=>y(d[1])).attr('rx',8.5).attr('ry',10.5)
    .attr('fill','none').attr('stroke','#111').attr('stroke-width',2.2);

  const lx = x(0.43), ly0 = y(0.292);
  miniLegend.forEach((t,i)=>{
    const yy = ly0 + i*cfg.lstep;
    if(i<2) g.append('line').attr('x1',lx).attr('x2',lx+34).attr('y1',yy).attr('y2',yy).attr('stroke',dashCol).attr('stroke-width',1.4).attr('stroke-dasharray','5,3');
    const cx = lx+17;
    if(i===0) g.append('circle').attr('cx',cx).attr('cy',yy).attr('r',2.2).attr('fill','#b30000');
    if(i===1) g.append('circle').attr('cx',cx).attr('cy',yy).attr('r',2.4).attr('fill','#fff').attr('stroke','#cf7d7d');
    if(i===2) g.append('path').attr('transform',`translate(${cx},${yy}) rotate(45)`).attr('d',d3.symbol(d3.symbolSquare,18)).attr('fill','#b30000');
    if(i===3) g.append('path').attr('transform',`translate(${cx},${yy})`).attr('d',d3.symbol(d3.symbolTriangle,26)).attr('fill','#fff').attr('stroke','#c85d5d');
    g.append('text').attr('x',lx+41).attr('y',yy+3).text(t).attr('font-family',sans).attr('font-size',7.5).attr('fill','#333');
  });

  g.append('text').attr('x',x(0.41)).attr('y',cfg.y55-31).attr('text-anchor','middle').text('R = 0.6%')
    .attr('font-family',serif).attr('font-weight','bold').attr('font-size',16).attr('fill','#111');
  g.append('text').attr('transform',`translate(${cfg.x0-33},${(cfg.y55+yb)/2-10}) rotate(-90)`).attr('text-anchor','middle')
    .text('\u03c8 (-)').attr('font-family',serif).attr('font-weight','bold').attr('font-size',20).attr('fill','#111');
  g.append('text').attr('x',x(0.42)).attr('y',yb+35).attr('text-anchor','middle')
    .text('\u03c6 (-)').attr('font-family',serif).attr('font-weight','bold').attr('font-size',20).attr('fill','#111');
}
mini({x0:897,x1:1180,y55:129.3,y20:350,circled:circledTop,lstep:9});
mini({x0:910.7,x1:1198.3,y55:808.3,y20:1040,circled:circledBottom,lstep:9.6});

function caption(lbl,txt,yy){
  const t = svg.append('text').attr('x',607).attr('y',yy).attr('text-anchor','middle')
    .attr('font-family',"'DejaVu Serif',serif").attr('font-size',21.5).attr('fill','#111');
  t.append('tspan').attr('font-weight','bold').text(lbl);
  t.append('tspan').text(' '+txt);
}
caption('a)','Cas avec contr\u00f4le',584);
caption('b)','Cas sans contr\u00f4le',1270);
</script>
</body></html>
